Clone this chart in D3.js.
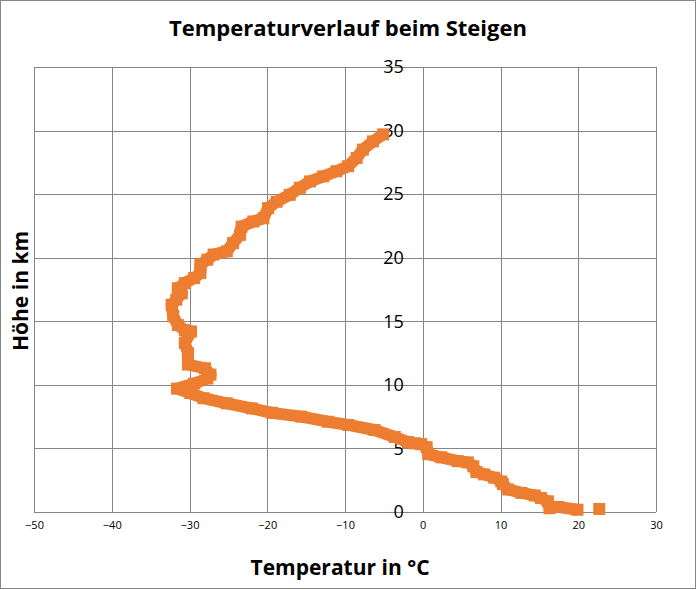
<!DOCTYPE html>
<html>
<head>
<meta charset="utf-8">
<script src="https://cdn.jsdelivr.net/npm/d3@7"></script>
<style>
  body { margin: 0; background: #fff; }
  svg { display: block; font-family: "Open Sans", sans-serif; }
</style>
</head>
<body>
<div id="chart"></div>
<script>
// Messwerte: Temperatur (°C) und Höhe (km), vom Boden aufwärts
const temperature = [22.7, 19.9, 17.4, 16.3, 16.1, 15.2, 14.4, 12.7, 11.0, 10.3,
  10.1, 9.2, 7.9, 6.9, 6.5, 5.8, 4.5, 2.4, 0.7, 0.5,
  -0.2, -1.0, -1.9, -3.6, -6.2, -9.6, -12.2, -15.6, -19.4, -22.0,
  -25.2, -28.2, -29.9, -31.6, -29.4, -27.7, -27.3, -28.0, -30.2, -30.2,
  -30.6, -29.8, -30.6, -31.5, -32.1, -32.3, -31.7, -31.0, -31.5, -30.6,
  -29.4, -28.6, -28.6, -27.7, -26.9, -25.2, -24.4, -23.5, -23.3, -21.8,
  -20.5, -19.9, -18.8, -17.1, -15.8, -14.5, -12.8, -11.1, -9.6, -8.5,
  -7.7, -6.4, -5.1];
const height = [0.24, 0.18, 0.4, 0.3, 0.84, 1.1, 1.3, 1.5, 1.77, 2.2,
  2.4, 2.7, 2.96, 3.14, 3.6, 3.9, 4.0, 4.3, 4.55, 5.1,
  5.34, 5.4, 5.5, 5.9, 6.45, 6.85, 7.1, 7.5, 7.8, 8.15,
  8.55, 8.95, 9.35, 9.7, 10.1, 10.5, 10.8, 11.3, 11.6, 12.5,
  13.3, 14.2, 14.3, 14.7, 15.4, 16.3, 16.7, 17.2, 17.6, 18.0,
  18.4, 18.8, 19.45, 19.85, 20.25, 20.5, 21.15, 21.8, 22.45, 22.85,
  23.1, 23.9, 24.4, 24.95, 25.5, 26.0, 26.4, 26.8, 27.2, 27.85,
  28.5, 29.15, 29.7];

const xTicks = [-50, -40, -30, -20, -10, 0, 10, 20, 30];
const yTicks = [0, 5, 10, 15, 20, 25, 30, 35];

const W = 697, H = 590;
const margin = { top: 67, right: 41, bottom: 78, left: 34 };
const width = W - margin.left - margin.right;
const innerH = H - margin.top - margin.bottom;

const svg = d3.select("#chart").append("svg")
  .attr("width", W)
  .attr("height", H);

// Rahmen
svg.append("rect")
  .attr("x", 0.5).attr("y", 0.5)
  .attr("width", W - 2).attr("height", H - 2)
  .attr("fill", "#fff")
  .attr("stroke", "#868686");

svg.append("text")
  .attr("x", 348)
  .attr("y", 36)
  .attr("text-anchor", "middle")
  .style("font-size", "22px")
  .style("font-weight", "bold")
  .text("Temperaturverlauf beim Steigen");

const g = svg.append("g")
  .attr("transform", `translate(${margin.left},${margin.top})`);

const x = d3.scaleLinear().domain([-50, 30]).range([0, width]);
const y = d3.scaleLinear().domain([0, 35]).range([innerH, 0]);

// Gitterlinien
g.append("g")
  .attr("class", "grid")
  .attr("transform", `translate(0,${innerH})`)
  .call(d3.axisBottom(x).tickValues(xTicks).tickSize(-innerH).tickFormat(""))
  .call(a => a.select(".domain").remove());

g.append("g")
  .attr("class", "grid")
  .call(d3.axisLeft(y).tickValues(yTicks).tickSize(-width).tickFormat(""))
  .call(a => a.select(".domain").remove());

g.selectAll(".grid line")
  .attr("stroke", "#868686")
  .attr("shape-rendering", "crispEdges");

// x-Achse
g.append("g")
  .attr("transform", `translate(0,${innerH})`)
  .call(d3.axisBottom(x).tickValues(xTicks).tickSize(0).tickPadding(9))
  .call(a => a.select(".domain").remove())
  .selectAll("text")
  .style("font-size", "11px")
  .style("font-family", "Open Sans, sans-serif")
  .attr("fill", "#000");

// y-Achse an der 0-Linie
g.append("g")
  .attr("transform", `translate(${x(0)},0)`)
  .call(d3.axisLeft(y).tickValues(yTicks).tickSize(0).tickPadding(19))
  .call(a => a.select(".domain").remove())
  .selectAll("text")
  .style("font-size", "18px")
  .style("font-family", "Open Sans, sans-serif")
  .attr("fill", "#000");

// Kurve
const pts = temperature.map((t, i) => ({ t: t, h: height[i] }));
const orange = "#ED7D31";

const line = d3.line()
  .x(d => x(d.t))
  .y(d => y(d.h));

g.append("path")
  .datum(pts.slice(1))
  .attr("fill", "none")
  .attr("stroke", orange)
  .attr("stroke-width", 12)
  .attr("stroke-linejoin", "round")
  .attr("d", line);

const sz = 12;
g.selectAll("rect.marker")
  .data(pts)
  .join("rect")
  .attr("class", "marker")
  .attr("x", d => x(d.t) - sz / 2)
  .attr("y", d => y(d.h) - sz / 2)
  .attr("width", sz)
  .attr("height", sz)
  .attr("fill", orange);

// Achsentitel
svg.append("text")
  .attr("x", 340)
  .attr("y", 575)
  .attr("text-anchor", "middle")
  .style("font-size", "21px")
  .style("font-weight", "bold")
  .text("Temperatur in °C");

svg.append("text")
  .attr("transform", "translate(28,291) rotate(-90)")
  .attr("text-anchor", "middle")
  .style("font-size", "21px")
  .style("font-weight", "bold")
  .text("Höhe in km");
</script>
</body>
</html>
